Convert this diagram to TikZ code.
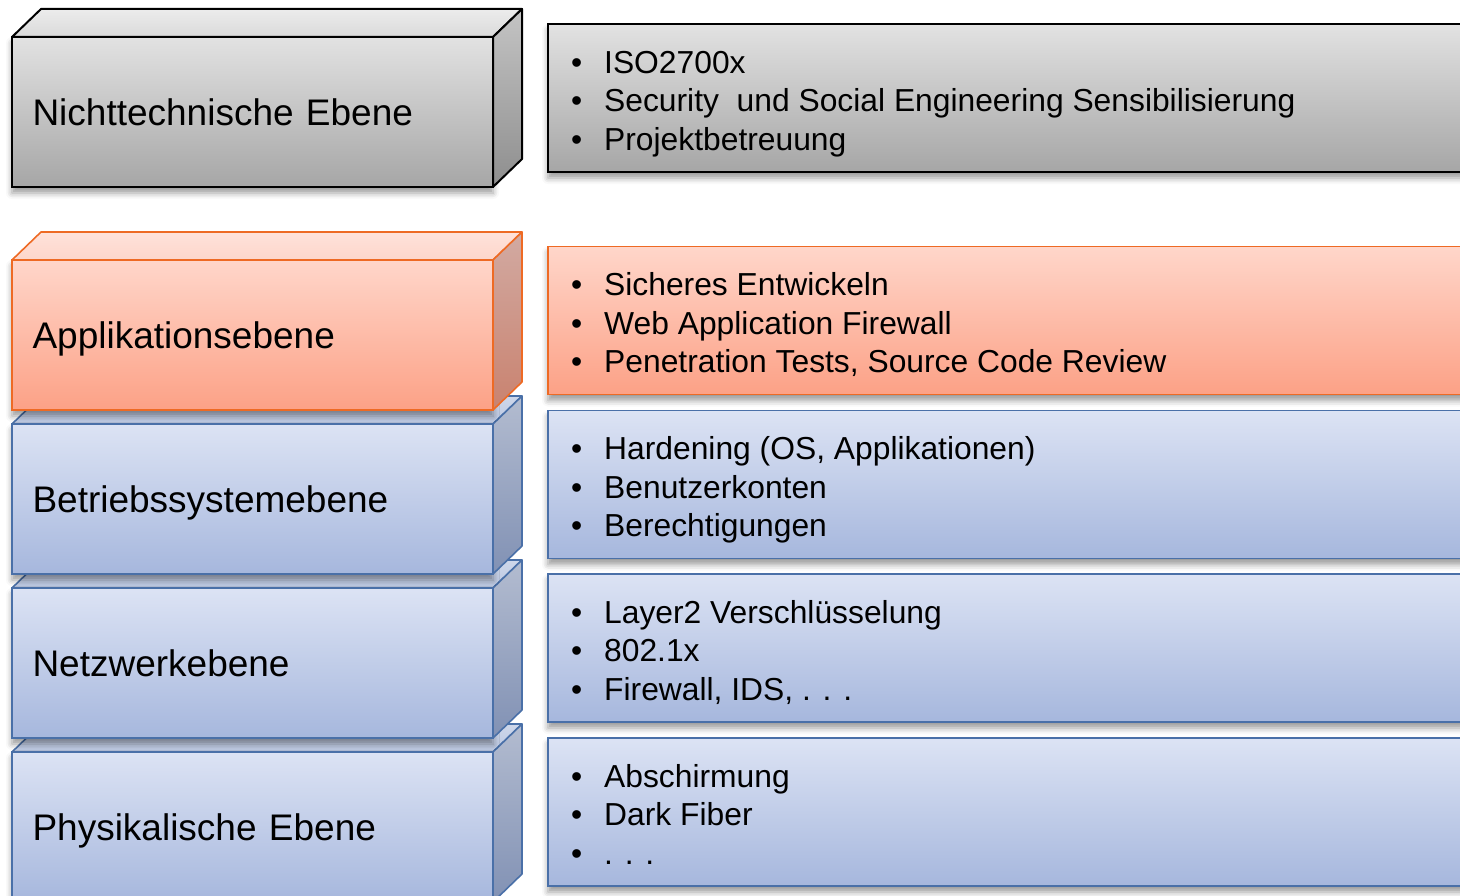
\documentclass[tikz,border=0pt]{standalone}
\usepackage{fontspec}
\setmainfont{Liberation Sans}
\usepackage{xcolor}
\usetikzlibrary{positioning}
\usetikzlibrary{shadows.blur}

\definecolor{greyTop}{HTML}{E2E2E2}
\definecolor{greyBot}{HTML}{A6A6A6}
\definecolor{greySideTop}{HTML}{C4C4C4}
\definecolor{greySideBot}{HTML}{8E8E8E}
\definecolor{greyLidTop}{HTML}{ECECEC}
\definecolor{greyLidBot}{HTML}{DADADA}
\definecolor{orangeTop}{HTML}{FFD6CA}
\definecolor{orangeBot}{HTML}{FCA186}
\definecolor{orangeLine}{HTML}{EE6A24}
\definecolor{orangeSideTop}{HTML}{D2AAA2}
\definecolor{orangeSideBot}{HTML}{C9826F}
\definecolor{orangeLidTop}{HTML}{FFE2DA}
\definecolor{orangeLidBot}{HTML}{FDD6CB}
\definecolor{blueTop}{HTML}{DCE3F4}
\definecolor{blueBot}{HTML}{A6B7DD}
\definecolor{blueLine}{HTML}{4A70A8}
\definecolor{blueSideTop}{HTML}{B3BCD0}
\definecolor{blueSideBot}{HTML}{8191B4}
\definecolor{blueLidTop}{HTML}{CED7EA}
\definecolor{blueLidBot}{HTML}{BCC8E2}

\newcommand{\itm}[1]{\makebox[33pt][l]{\textbullet}#1\strut}

\tikzstyle{front} = [rectangle, outer sep=0pt, inner xsep=20.5pt,
minimum width=481pt, minimum height=150pt, text width=440pt, align=left,
text height=26.5pt, text depth=0pt, font=\fontsize{37}{44}\selectfont,
blur shadow={shadow xshift=0pt, shadow yshift=-6pt, shadow blur radius=6pt, shadow opacity=40}]
\tikzstyle{panel} = [rectangle, outer sep=0pt, minimum width=927pt,
minimum height=148pt,
blur shadow={shadow xshift=0pt, shadow yshift=-6pt, shadow blur radius=6pt, shadow opacity=40}]
\tikzstyle{items} = [anchor=west, inner sep=0pt, align=left,
font=\fontsize{31.8}{38.5}\selectfont]

\begin{document}
\begin{tikzpicture}[x=1pt, y=-1pt,
		greyface/.style={draw=black, line width=2pt, top color=greyTop, bottom color=greyBot},
		greyside/.style={draw=black, line width=2pt, line join=round, top color=greySideTop, bottom color=greySideBot},
		greylid/.style={draw=black, line width=2pt, line join=round, top color=greyLidTop, bottom color=greyLidBot},
		orangeface/.style={draw=orangeLine, line width=1.6pt, top color=orangeTop, bottom color=orangeBot},
		orangeside/.style={draw=orangeLine, line width=1.6pt, line join=round, top color=orangeSideTop, bottom color=orangeSideBot},
		orangelid/.style={draw=orangeLine, line width=1.6pt, line join=round, top color=orangeLidTop, bottom color=orangeLidBot},
		blueface/.style={draw=blueLine, line width=1.6pt, top color=blueTop, bottom color=blueBot},
		blueside/.style={draw=blueLine, line width=1.6pt, line join=round, top color=blueSideTop, bottom color=blueSideBot},
		bluelid/.style={draw=blueLine, line width=1.6pt, line join=round, top color=blueLidTop, bottom color=blueLidBot}]
		\useasboundingbox (0,0) rectangle (1460,896);
		\clip (0,0) rectangle (1460,896);
		%% Layer stack, drawn from the bottom up
		\node [front, blueface] (phy) at (252.5,827) {Physikalische Ebene};
		\path [bluelid] (phy.north west) -- ++(29,-28) -- ++(481,0) -- (phy.north east) -- cycle;
		\path [blueside] (phy.north east) -- ++(29,-28) -- ++(0,150) -- (phy.south east) -- cycle;
		\node [front, blueface, above=14pt of phy] (net) {Netzwerkebene};
		\path [bluelid] (net.north west) -- ++(29,-28) -- ++(481,0) -- (net.north east) -- cycle;
		\path [blueside] (net.north east) -- ++(29,-28) -- ++(0,150) -- (net.south east) -- cycle;
		\node [front, blueface, above=14pt of net] (os) {Betriebssystemebene};
		\path [bluelid] (os.north west) -- ++(29,-28) -- ++(481,0) -- (os.north east) -- cycle;
		\path [blueside] (os.north east) -- ++(29,-28) -- ++(0,150) -- (os.south east) -- cycle;
		\node [front, orangeface, above=14pt of os] (app) {Applikationsebene};
		\path [orangelid] (app.north west) -- ++(29,-28) -- ++(481,0) -- (app.north east) -- cycle;
		\path [orangeside] (app.north east) -- ++(29,-28) -- ++(0,150) -- (app.south east) -- cycle;
		%% Non-technical layer
		\node [front, greyface] (nt) at (252.5,112) {Nichttechnische Ebene};
		\path [greylid] (nt.north west) -- ++(29,-28) -- ++(481,0) -- (nt.north east) -- cycle;
		\path [greyside] (nt.north east) -- ++(29,-28) -- ++(0,150) -- (nt.south east) -- cycle;
		%% Measures per layer
		\node [panel, greyface] (ntpanel) at (1011.5,98) {};
		\node [items] (ntitems) at ([xshift=23pt, yshift=-6pt]ntpanel.west)
			{\itm{ISO2700x}\\ \itm{Security\ \ und Social Engineering Sensibilisierung}\\ \itm{Projektbetreuung}};
		\node [panel, orangeface] (apppanel) at (1011.5,320.5) {};
		\node [items] (appitems) at ([xshift=23pt, yshift=-6pt]apppanel.west)
			{\itm{Sicheres Entwickeln}\\ \itm{Web Application Firewall}\\ \itm{Penetration Tests, Source Code Review}};
		\node [panel, blueface] (ospanel) at (1011.5,484.5) {};
		\node [items] (ositems) at ([xshift=23pt, yshift=-6pt]ospanel.west)
			{\itm{Hardening (OS, Applikationen)}\\ \itm{Benutzerkonten}\\ \itm{Berechtigungen}};
		\node [panel, blueface] (netpanel) at (1011.5,648) {};
		\node [items] (netitems) at ([xshift=23pt, yshift=-6pt]netpanel.west)
			{\itm{Layer2 Verschlüsselung}\\ \itm{802.1x}\\ \itm{Firewall, IDS, . . .}};
		\node [panel, blueface] (phypanel) at (1011.5,812) {};
		\node [items] (phyitems) at ([xshift=23pt, yshift=-6pt]phypanel.west)
			{\itm{Abschirmung}\\ \itm{Dark Fiber}\\ \itm{. . .}};
	\end{tikzpicture}
\end{document}
